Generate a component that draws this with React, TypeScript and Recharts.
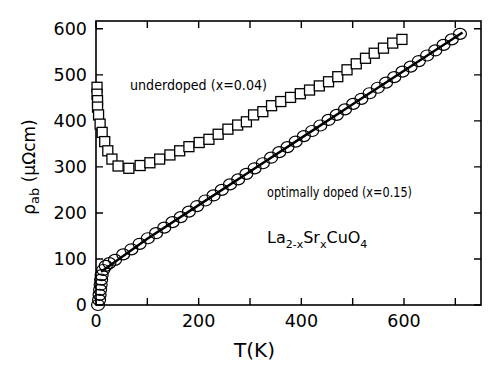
import { ComposedChart, Scatter, Line, XAxis, YAxis } from 'recharts';

// underdoped x=0.04 (squares)
const underT = [2, 2, 3, 3, 5, 8, 12, 17, 23, 31, 43, 64, 86, 105, 124, 144, 163, 181, 201, 220, 238, 257, 276, 293, 307, 325, 342, 360, 379, 398, 416, 435, 453, 471, 489, 507, 525, 542, 560, 578, 596];
const underRho = [473, 458, 444, 430, 413, 393, 375, 355, 335, 317, 302, 297, 303, 309, 317, 326, 335, 344, 353, 360, 371, 382, 391, 398, 413, 420, 433, 442, 451, 459, 467, 476, 485, 496, 511, 524, 536, 547, 558, 569, 577];

// optimally doped x=0.15 (circles)
const optT = [4, 6, 7, 8, 9, 10, 11, 14, 19, 26, 37, 53, 69, 85, 101, 117, 133, 149, 165, 181, 197, 213, 229, 245, 261, 277, 293, 309, 325, 341, 357, 373, 389, 405, 421, 437, 453, 469, 485, 501, 517, 533, 549, 565, 581, 597, 613, 629, 645, 661, 677, 693, 709];
const optRho = [0, 11, 22, 33, 44, 55, 65, 76, 85, 91, 98, 110, 121, 133, 145, 156, 168, 180, 191, 203, 215, 227, 238, 250, 262, 273, 285, 297, 308, 320, 332, 343, 355, 367, 378, 390, 402, 413, 425, 437, 448, 460, 472, 483, 495, 507, 518, 530, 542, 553, 565, 577, 589];

// linear fit through optimally doped curve
const fitT = [10, 100, 200, 300, 400, 500, 600, 714];
const fitRho = [72, 144, 217, 290, 363, 436, 509, 592];

const xTicks = [0, 100, 200, 300, 400, 500, 600, 700];
const yTicks = [0, 100, 200, 300, 400, 500, 600];
const xMax = 750;
const yMax = 617;

const underData = underT.map((T, i) => ({ T, rho: underRho[i] }));
const optData = optT.map((T, i) => ({ T, rho: optRho[i] }));
const fitData = fitT.map((T, i) => ({ T, rho: fitRho[i] }));

// chart box
const W = 498;
const H = 368;
const margin = { top: 21, right: 17, bottom: 23, left: 0 };
const yAxisW = 96;
const xAxisH = 40;
const left = margin.left + yAxisW;
const right = W - margin.right;
const top = margin.top;
const bottom = H - margin.bottom - xAxisH;
const px = (T: number) => left + (T / xMax) * (right - left);
const py = (r: number) => bottom - (r / yMax) * (bottom - top);

const tickFont = { fontSize: 17.5, fill: '#000', fontFamily: 'DejaVu Sans' };
const noteFont = { fontSize: 14, fontFamily: 'DejaVu Sans', fill: '#000' };

const Square = (props: any) => {
  const { cx, cy } = props;
  return <rect x={cx - 5} y={cy - 5} width={10} height={10} fill="#fff" stroke="#000" strokeWidth={1.3} />;
};

const Ring = (props: any) => {
  const { cx, cy } = props;
  return <ellipse cx={cx} cy={cy} rx={6.5} ry={5.5} fill="none" stroke="#000" strokeWidth={1.2} />;
};

const tickPath =
  xTicks.map((t) => `M${px(t)},${bottom}v-7M${px(t)},${top}v7`).join('') +
  yTicks.map((r) => `M${left},${py(r)}h7M${right},${py(r)}h-7`).join('');

export default function App() {
  return (
    <div style={{ position: 'absolute', left: 0, top: 0, background: '#fff' }}>
      <ComposedChart width={W} height={H} margin={margin}>
        <XAxis
          xAxisId="b"
          dataKey="T"
          type="number"
          domain={[0, xMax]}
          ticks={xTicks}
          height={xAxisH}
          tickSize={-7}
          tickMargin={17}
          tickFormatter={(v: number) => (v % 200 === 0 ? String(v) : '')}
          axisLine={false}
          tickLine={false}
          tick={tickFont}
          label={{ value: 'T(K)', position: 'insideBottom', offset: -12, dx: -34, fontSize: 20, fill: '#000', fontFamily: 'DejaVu Sans' }}
        />
        <YAxis
          yAxisId="l"
          type="number"
          domain={[0, yMax]}
          ticks={yTicks}
          width={yAxisW}
          tickSize={-7}
          tickMargin={16}
          axisLine={false}
          tickLine={false}
          tick={tickFont}
        />
        <Scatter xAxisId="b" yAxisId="l" data={underData} dataKey="rho" shape={Square} isAnimationActive={false} />
        <Scatter xAxisId="b" yAxisId="l" data={optData} dataKey="rho" shape={Ring} isAnimationActive={false} />
        <Line
          xAxisId="b"
          yAxisId="l"
          data={fitData}
          dataKey="rho"
          type="linear"
          stroke="#000"
          strokeWidth={2.5}
          dot={false}
          activeDot={false}
          isAnimationActive={false}
        />
        <rect x={left} y={top} width={right - left} height={bottom - top} fill="none" stroke="#000" strokeWidth={1.6} />
        <path d={tickPath} stroke="#000" strokeWidth={1.4} fill="none" />
        <text transform="rotate(-90)" x={-167} y={35} textAnchor="middle" fontSize={17} fontFamily="DejaVu Sans" fill="#000">
          ρ<tspan dy={4} fontSize={13}>ab</tspan>
          <tspan dy={-4}> (μΩcm)</tspan>
        </text>
        <text x={130} y={90} {...noteFont} textLength={137} lengthAdjust="spacingAndGlyphs">
          underdoped (x=0.04)
        </text>
        <text x={267} y={197} {...noteFont} textLength={145} lengthAdjust="spacingAndGlyphs">
          optimally doped (x=0.15)
        </text>
        <text x={267} y={243} fontSize={16} fontFamily="DejaVu Sans" fill="#000">
          La<tspan dy={5} fontSize={11}>2-x</tspan>
          <tspan dy={-5}>Sr</tspan>
          <tspan dy={5} fontSize={11}>x</tspan>
          <tspan dy={-5}>CuO</tspan>
          <tspan dy={5} fontSize={11}>4</tspan>
        </text>
      </ComposedChart>
    </div>
  );
}
